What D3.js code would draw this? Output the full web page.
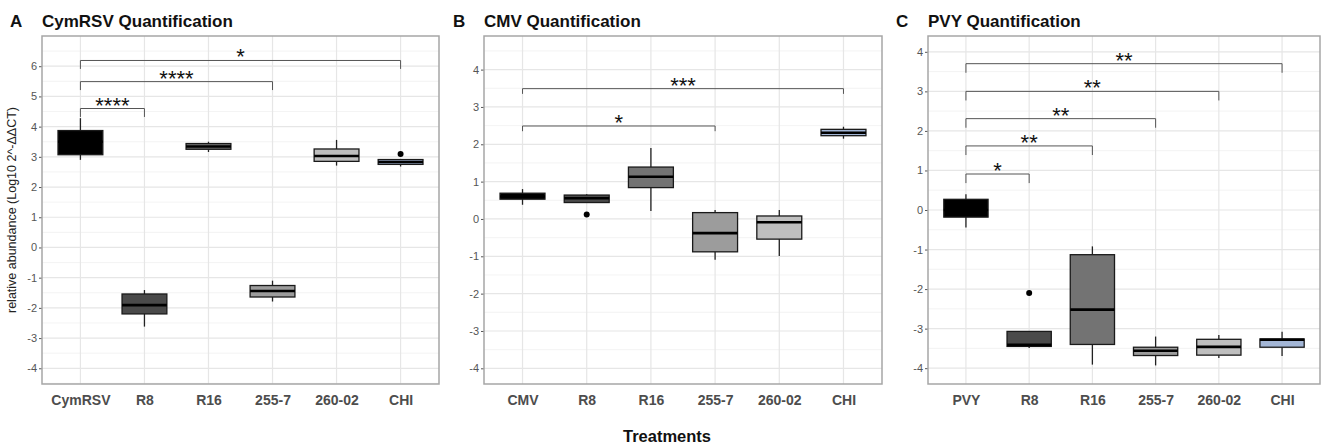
<!DOCTYPE html>
<html><head><meta charset="utf-8">
<script src="https://cdn.jsdelivr.net/npm/d3@7"></script>
<style>body{margin:0;background:#fff}svg{display:block;font-family:"Liberation Sans",Arial,sans-serif}</style>
</head><body>
<svg id="chart" width="1326" height="446"></svg>
<script>
// ---------- DATA ----------
const fills = ["#000000", "#4a4a4a", "#737373", "#9c9c9c", "#bfbfbf", "#a3b6d6"];

// Panel A: CymRSV
const catsA = ["CymRSV", "R8", "R16", "255-7", "260-02", "CHI"];
const lowA  = [2.90, -2.62, 3.16, -1.79, 2.71, 2.68];
const q1A   = [3.07, -2.20, 3.25, -1.64, 2.85, 2.75];
const medA  = [3.50, -1.91, 3.34, -1.44, 3.03, 2.83];
const q3A   = [3.87, -1.54, 3.44, -1.26, 3.26, 2.91];
const highA = [4.28, -1.41, 3.50, -1.10, 3.56, 2.91];
const outA  = [[], [], [], [], [], [3.09]];
const brA   = [["CymRSV", "R8", 4.60, "****"], ["CymRSV", "255-7", 5.49, "****"], ["CymRSV", "CHI", 6.19, "*"]];
const ticksA = [-4, -3, -2, -1, 0, 1, 2, 3, 4, 5, 6];

// Panel B: CMV
const catsB = ["CMV", "R8", "R16", "255-7", "260-02", "CHI"];
const lowB  = [0.38, 0.44, 0.21, -1.09, -0.99, 2.15];
const q1B   = [0.53, 0.44, 0.84, -0.88, -0.54, 2.23];
const medB  = [0.60, 0.555, 1.13, -0.38, -0.09, 2.31];
const q3B   = [0.69, 0.64, 1.39, 0.17, 0.08, 2.40];
const highB = [0.80, 0.66, 1.90, 0.24, 0.24, 2.47];
const outB  = [[], [0.12], [], [], [], []];
const brB   = [["CMV", "255-7", 2.49, "*"], ["CMV", "CHI", 3.49, "***"]];
const ticksB = [-4, -3, -2, -1, 0, 1, 2, 3, 4];

// Panel C: PVY
const catsC = ["PVY", "R8", "R16", "255-7", "260-02", "CHI"];
const lowC  = [-0.44, -3.49, -3.91, -3.93, -3.74, -3.69];
const q1C   = [-0.18, -3.45, -3.40, -3.68, -3.67, -3.47];
const medC  = [0.00, -3.41, -2.52, -3.56, -3.46, -3.28];
const q3C   = [0.27, -3.07, -1.13, -3.47, -3.27, -3.26];
const highC = [0.40, -3.07, -0.92, -3.20, -3.16, -3.08];
const outC  = [[], [-2.10], [], [], [], []];
const brC   = [["PVY", "R8", 0.91, "*"], ["PVY", "R16", 1.62, "**"], ["PVY", "255-7", 2.31, "**"],
               ["PVY", "260-02", 3.00, "**"], ["PVY", "CHI", 3.70, "**"]];
const ticksC = [-4, -3, -2, -1, 0, 1, 2, 3, 4];

// ---------- DRAW ----------
const svg = d3.select("#chart");
const plotTop = 36, plotBottom = 384;

function panel(o) {
  const g = svg.append("g");
  const x = d3.scalePoint().domain(o.cats).range([o.left, o.right]).padding(0.6);
  const y = d3.scaleLinear().domain(o.ydom).range([plotBottom, plotTop]);
  const step = x.step();
  // grid minor
  const minor = d3.range(Math.ceil(o.ydom[0] * 2) / 2, o.ydom[1], 0.5).filter(v => Math.abs(v % 1) > 0.01);
  g.selectAll(".mn").data(minor).join("line")
    .attr("x1", o.left).attr("x2", o.right).attr("y1", d => y(d)).attr("y2", d => y(d))
    .attr("stroke", "#f0f0f0").attr("stroke-width", 0.8);
  g.selectAll(".mj").data(o.ticks).join("line")
    .attr("x1", o.left).attr("x2", o.right).attr("y1", d => y(d)).attr("y2", d => y(d))
    .attr("stroke", "#e6e6e6").attr("stroke-width", 1.2);
  g.selectAll(".vg").data(o.cats).join("line")
    .attr("x1", d => x(d)).attr("x2", d => x(d)).attr("y1", plotTop).attr("y2", plotBottom)
    .attr("stroke", "#e6e6e6").attr("stroke-width", 1.2);

  // axes
  const ya = d3.axisLeft(y).tickValues(o.ticks).tickSize(3).tickPadding(2).tickFormat(d => String(d));
  const yg = g.append("g").attr("transform", `translate(${o.left},0)`).call(ya);
  yg.select(".domain").remove();
  yg.selectAll(".tick line").attr("stroke", "#555");
  yg.selectAll(".tick text").attr("fill", "#555").attr("font-size", 11).attr("font-family", "Liberation Sans, Arial, sans-serif");
  const xa = d3.axisBottom(x).tickSize(0).tickPadding(11);
  const xg = g.append("g").attr("transform", `translate(0,${plotBottom})`).call(xa);
  xg.select(".domain").remove();
  xg.selectAll(".tick text").attr("fill", "#4d4d4d").attr("font-size", 14).attr("font-weight", "bold")
    .attr("font-family", "Liberation Sans, Arial, sans-serif");

  // boxes
  const bw = step * 0.7;
  o.cats.forEach((c, i) => {
    const cx = x(c);
    g.append("line").attr("x1", cx).attr("x2", cx).attr("y1", y(o.high[i])).attr("y2", y(o.q3[i]))
      .attr("stroke", "#222").attr("stroke-width", 1.3);
    g.append("line").attr("x1", cx).attr("x2", cx).attr("y1", y(o.q1[i])).attr("y2", y(o.low[i]))
      .attr("stroke", "#222").attr("stroke-width", 1.3);
    g.append("rect").attr("x", cx - bw / 2).attr("width", bw)
      .attr("y", y(o.q3[i])).attr("height", y(o.q1[i]) - y(o.q3[i]))
      .attr("fill", fills[i]).attr("stroke", "#1a1a1a").attr("stroke-width", 1.3);
    g.append("line").attr("x1", cx - bw / 2).attr("x2", cx + bw / 2).attr("y1", y(o.med[i])).attr("y2", y(o.med[i]))
      .attr("stroke", "#000").attr("stroke-width", 2.6);
    o.out[i].forEach(v => g.append("circle").attr("cx", cx).attr("cy", y(v)).attr("r", 3).attr("fill", "#000"));
  });

  // brackets
  o.br.forEach(b => {
    const x1 = x(b[0]), x2 = x(b[1]), yy = y(b[2]);
    const drop = y(b[2] - o.tick) - yy;
    g.append("path").attr("d", `M${x1},${yy + drop}V${yy}H${x2}V${yy + drop}`)
      .attr("fill", "none").attr("stroke", "#555").attr("stroke-width", 1);
    g.append("text").attr("x", (x1 + x2) / 2).attr("y", yy + 4).attr("text-anchor", "middle")
      .attr("font-size", 22).attr("fill", "#111").text(b[3]);
  });

  // border
  g.append("rect").attr("x", o.left).attr("y", plotTop).attr("width", o.right - o.left).attr("height", plotBottom - plotTop)
    .attr("fill", "none").attr("stroke", "#a6a6a6").attr("stroke-width", 1.5);

  // titles
  svg.append("text").attr("x", o.letterX).attr("y", 26.5).attr("font-size", 17).attr("font-weight", "bold")
    .attr("fill", "#111").text(o.letter);
  svg.append("text").attr("x", o.left).attr("y", 26.5).attr("font-size", 17).attr("font-weight", "bold")
    .attr("fill", "#111").text(o.title);
}

panel({cats: catsA, low: lowA, q1: q1A, med: medA, q3: q3A, high: highA, out: outA, br: brA, ticks: ticksA,
  left: 42, right: 439, ydom: [-4.52, 7.0], tick: 0.28, letter: "A", letterX: 10, title: "CymRSV Quantification"});
panel({cats: catsB, low: lowB, q1: q1B, med: medB, q3: q3B, high: highB, out: outB, br: brB, ticks: ticksB,
  left: 484, right: 882, ydom: [-4.42, 4.9], tick: 0.14, letter: "B", letterX: 453, title: "CMV Quantification"});
panel({cats: catsC, low: lowC, q1: q1C, med: medC, q3: q3C, high: highC, out: outC, br: brC, ticks: ticksC,
  left: 928, right: 1320, ydom: [-4.4, 4.4], tick: 0.23, letter: "C", letterX: 896, title: "PVY Quantification"});

svg.append("text").attr("transform", "translate(16,210) rotate(-90)").attr("text-anchor", "middle")
  .attr("font-size", 12.5).attr("fill", "#222").text("relative abundance (Log10 2^-ΔΔCT)");
svg.append("text").attr("x", 667).attr("y", 442).attr("text-anchor", "middle")
  .attr("font-size", 16.5).attr("font-weight", "bold").attr("fill", "#111").text("Treatments");
</script>
</body></html>
